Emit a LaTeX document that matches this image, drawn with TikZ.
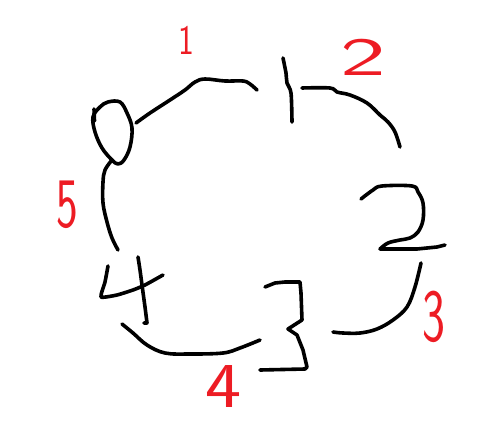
\documentclass[tikz,border=0pt]{standalone}
\definecolor{paintred}{RGB}{237,28,36}
\begin{document}
\begin{tikzpicture}[x=1pt,y=-1pt,
  ink/.style={line width=3.6pt, line cap=round, line join=round, draw=black},
  redlabel/.style={text=paintred, inner sep=0pt, anchor=base}]
\useasboundingbox[fill=white] (0,0) rectangle (495,439);
% arc 1 (top left)
\draw[ink] plot[smooth, tension=0.6] coordinates {(136,123) (150,113) (170,100) (185,90) (195,82) (205,79) (225,81) (243,81) (250,84) (257,90)};
% loop (zero) at top left
\draw[ink] plot[smooth cycle, tension=0.6] coordinates {(100,107) (108,102) (120,102) (127,113) (132,128) (130,147) (124,160) (118,164) (112,160) (102,148) (95,132) (93,117)};
\draw[ink] (94,109) -- (94.5,121);
% arc 5 (left)
\draw[ink] plot[smooth, tension=0.6] coordinates {(112,160) (105,170) (103,182) (103,203) (107,222) (112,238) (118,250)};
% black four
\draw[ink] plot[smooth, tension=0.3] coordinates {(108,266) (105,282) (101,297) (117,295) (133,290) (145,285) (163,275)};
\draw[ink] plot[smooth, tension=0.5] coordinates {(138,257) (140,270) (142,285) (145,307) (147,323)} -- (144,323);
% arc 4 (bottom)
\draw[ink] plot[smooth, tension=0.6] coordinates {(122,324) (133,333) (147,345) (165,353) (190,354) (223,353) (240,348) (260,340)};
% black three
\draw[ink] (265,287) -- (275,283) -- (285,282) -- (300,282) -- (301,293) -- (302,320) -- (288,329) -- (297,335) -- (303,350) -- (307,367) -- (305,369) -- (260,370);
% arc 3 (bottom right)
\draw[ink] plot[smooth, tension=0.6] coordinates {(333,332) (343,333) (360,333) (377,329) (393,320) (407,307) (415,287) (421,263)};
% black one
\draw[ink] plot[smooth, tension=0.5] coordinates {(283,58) (286,73) (287,83) (291,93) (292,122)};
% arc 2 (top right)
\draw[ink] plot[smooth, tension=0.6] coordinates {(302,88) (330,88) (337,92) (350,95) (367,103) (380,115) (388,122) (395,132) (400,147)};
% black two
\draw[ink] plot[smooth, tension=0.6] coordinates {(361,199) (373,190) (382,186) (412,186) (418,192) (423,203) (423,220) (418,232) (410,238) (400,240) (388,243) (380,249)} -- (417,249) -- (437,247) -- (445,245);
% red labels
\node[redlabel, font=\sffamily\fontsize{42}{42}\selectfont] (lab1) at (186,54) {\scalebox{0.8}[1]{1}};
\node[redlabel, font=\sffamily\fontsize{54}{54}\selectfont] (lab2) at (363,75) {\scalebox{1.8}[1]{2}};
\node[redlabel, font=\sffamily\fontsize{75}{75}\selectfont] (lab3) at (434,341) {\scalebox{0.65}[1]{3}};
\node[redlabel, font=\sffamily\fontsize{64}{64}\selectfont] (lab4) at (224,407) {\scalebox{1.2}[1]{4}};
\node[redlabel, font=\sffamily\fontsize{71}{71}\selectfont] (lab5) at (67,227) {\scalebox{0.65}[1]{5}};
\end{tikzpicture}
\end{document}
